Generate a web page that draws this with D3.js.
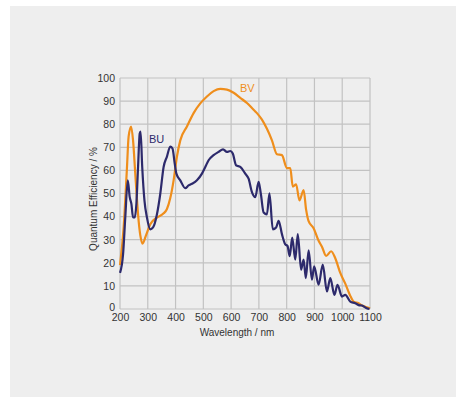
<!DOCTYPE html>
<html>
<head>
<meta charset="utf-8">
<script src="https://cdn.jsdelivr.net/npm/d3@7"></script>
<style>
  html, body { margin: 0; padding: 0; background: #ffffff; }
  svg { display: block; font-family: "Liberation Sans", Arial, sans-serif; }
</style>
</head>
<body>
<script>
// wavelength (nm) / quantum efficiency (%)
const bvWave = [200, 213, 225, 231, 240, 247, 255, 265, 273, 281, 294, 309, 333, 357, 369, 381, 393, 405, 417, 441, 465, 489, 513, 537, 561, 585, 609, 633, 657, 675, 693, 711, 729, 747, 765, 783, 801, 813, 822, 834, 846, 861, 870, 879, 897, 915, 927, 942, 960, 975, 993, 1011, 1028, 1043, 1059, 1071, 1083, 1100];
const bvQE   = [19, 35, 61, 74.6, 79, 73, 58.6, 41, 32, 28.3, 32, 36.7, 39.6, 41.4, 43.3, 48, 55.7, 66, 73, 79, 84.8, 89, 92, 94.3, 95.3, 95, 93.6, 91.4, 89.2, 87, 84.8, 82, 78, 73, 67, 66.6, 61, 61, 53, 54, 47, 51.5, 43, 38, 35, 29.5, 27, 23, 25, 22, 15.6, 11, 6, 3, 2.5, 1.5, 1, 0.3];

const buWave = [200, 211, 219, 228, 235, 241, 247, 253, 259, 265, 271, 274, 280, 288, 297, 309, 319, 333, 345, 357, 369, 381, 389, 397, 403, 417, 435, 447, 459, 477, 495, 507, 519, 537, 555, 571, 585, 597, 606, 618, 633, 651, 663, 675, 687, 699, 707, 717, 729, 738, 750, 762, 771, 783, 795, 803, 811, 820, 831, 840, 852, 861, 869, 879, 891, 899, 915, 930, 945, 957, 972, 983, 999, 1011, 1029, 1047, 1059, 1071, 1088, 1098];
const buQE   = [15.6, 23.6, 39.6, 55.7, 48.4, 45.5, 39.6, 39.6, 45.5, 61.5, 76, 76.8, 61.5, 47, 39.6, 34.5, 35.3, 41, 49.9, 61.5, 66, 70.3, 69.5, 63, 58.6, 55.7, 52.3, 53.5, 54.2, 55.7, 58.6, 61.5, 64.4, 66.6, 68, 69.1, 68, 68.4, 67.3, 62.2, 61.5, 58.6, 56.4, 50.6, 48.4, 55, 49.9, 41.8, 41, 50.1, 34.5, 35.3, 38.2, 32.4, 28, 27.3, 22.9, 30.9, 21.4, 32.4, 17, 21.4, 13.4, 25.4, 12.7, 18.5, 10.5, 19.2, 7.6, 13.4, 6.1, 10.5, 5.4, 6.1, 3.2, 2.5, 1.7, 1.5, 0.3, 0];

const xTicks = [200, 300, 400, 500, 600, 700, 800, 900, 1000, 1100];
const yTicks = [0, 10, 20, 30, 40, 50, 60, 70, 80, 90, 100];

const W = 456, H = 397;
const svg = d3.select("body").append("svg")
  .attr("width", W)
  .attr("height", H);

svg.append("rect")
  .attr("x", 10).attr("y", 6)
  .attr("width", W - 10).attr("height", H - 6)
  .attr("fill", "#eeeeee");

const x = d3.scaleLinear().domain([200, 1100]).range([120, 370]);
const y = d3.scaleLinear().domain([0, 100]).range([309, 78]);

// grid
const grid = svg.append("g").attr("stroke", "#c2c2c2").attr("stroke-width", 1.2);
grid.selectAll("line.v").data(xTicks).join("line")
  .attr("class", "v")
  .attr("x1", d => x(d)).attr("x2", d => x(d))
  .attr("y1", y(0)).attr("y2", y(100));
grid.selectAll("line.h").data(yTicks).join("line")
  .attr("class", "h")
  .attr("x1", x(200)).attr("x2", x(1100))
  .attr("y1", d => y(d)).attr("y2", d => y(d));

// axes (labels only)
const xAxis = svg.append("g")
  .attr("transform", "translate(0," + y(0) + ")")
  .call(d3.axisBottom(x).tickValues(xTicks).tickFormat(d3.format("d")).tickSize(0).tickPadding(5));
const yAxis = svg.append("g")
  .attr("transform", "translate(" + x(200) + ",0)")
  .call(d3.axisLeft(y).tickValues(yTicks).tickFormat(d3.format("d")).tickSize(0).tickPadding(5));
[xAxis, yAxis].forEach(a => {
  a.select(".domain").remove();
  a.selectAll("text")
    .attr("fill", "#333333")
    .style("font-size", "10.5px")
    .style("font-family", "Liberation Sans, Arial, sans-serif");
});
yAxis.selectAll(".tick").filter(d => d === 0).select("text").attr("dy", "0.1em");

svg.append("text")
  .attr("x", 237)
  .attr("y", 336)
  .attr("text-anchor", "middle")
  .attr("fill", "#333333")
  .style("font-size", "10px")
  .text("Wavelength / nm");

svg.append("text")
  .attr("transform", "translate(97,199) rotate(-90)")
  .attr("text-anchor", "middle")
  .attr("fill", "#333333")
  .style("font-size", "10px")
  .text("Quantum Efficiency / %");

const line = d3.line()
  .x(d => x(d[0]))
  .y(d => y(d[1]))
  .curve(d3.curveMonotoneX);

svg.append("path")
  .datum(bvWave.map((w, i) => [w, bvQE[i]]))
  .attr("fill", "none")
  .attr("stroke", "#ef8e1c")
  .attr("stroke-width", 2.2)
  .attr("stroke-linejoin", "round")
  .attr("d", line);

svg.append("path")
  .datum(buWave.map((w, i) => [w, buQE[i]]))
  .attr("fill", "none")
  .attr("stroke", "#2d2a6c")
  .attr("stroke-width", 2.2)
  .attr("stroke-linejoin", "round")
  .attr("d", line);

svg.append("text")
  .attr("x", 149).attr("y", 143)
  .attr("fill", "#2d2a6c")
  .style("font-size", "11px")
  .text("BU");

svg.append("text")
  .attr("x", 240).attr("y", 92)
  .attr("fill", "#ef8e1c")
  .style("font-size", "11px")
  .text("BV");
</script>
</body>
</html>
